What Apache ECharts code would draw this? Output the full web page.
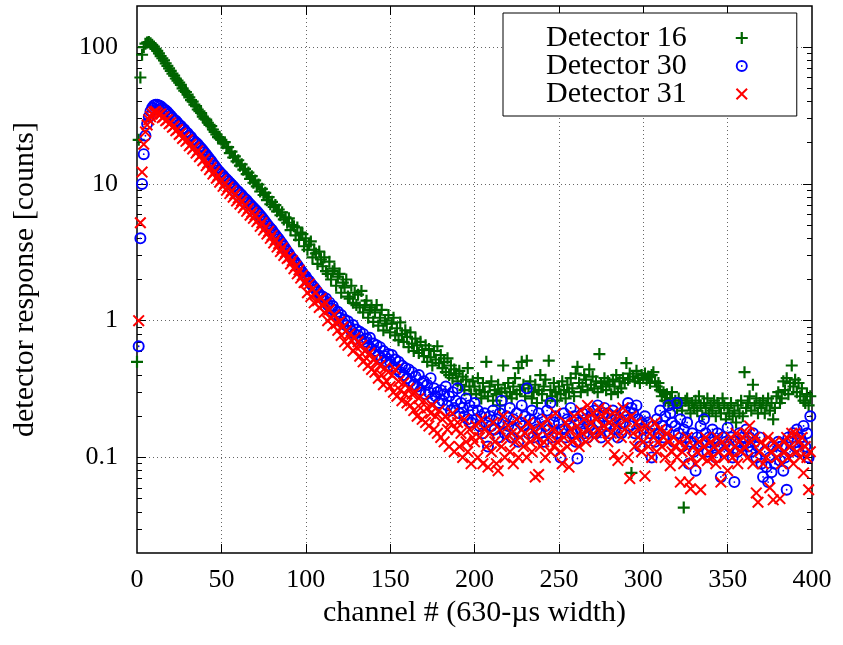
<!DOCTYPE html>
<html>
<head>
<meta charset="utf-8">
<script src="https://cdn.jsdelivr.net/npm/echarts@6/dist/echarts.min.js"></script>
<style>html,body{margin:0;padding:0;background:#fff}#chart{width:843px;height:645px}</style>
</head>
<body>
<div id="chart"></div>
<script>
// channel index = position in the arrays (0..399)
const seriesNames = ['Detector 16', 'Detector 30', 'Detector 31'];

const det16 = [
0.5, 21, 60, 88, 100, 106, 108, 109, 107, 104,
101, 97, 94, 90, 86, 83, 80, 76, 73, 70,
67, 64, 62, 59, 57, 55, 53, 50, 48, 47,
45, 43, 41, 40, 38, 37, 35, 34, 33, 31,
30, 29.5, 28, 27, 26.5, 25, 24, 23, 22, 21.5,
21, 19.8, 20.2, 18.4, 18.6, 16.8, 17.2, 15.6, 15.9, 14.6,
14.9, 13.6, 13.9, 12.7, 12.9, 11.8, 12.1, 10.9, 11.4, 10.2,
10.6, 9.6, 9.9, 8.8, 9.2, 8.3, 8.6, 7.6, 8.0, 7.1,
7.4, 6.8, 7.0, 6.3, 6.5, 5.9, 6.2, 5.5, 5.7, 5.2,
5.6, 4.6, 5.0, 4.9, 4.2, 4.8, 3.9, 4.4, 4.3, 3.5,
4.0, 3.3, 3.6, 3.8, 2.9, 3.3, 3.1, 2.6, 3.2, 2.8,
2.5, 2.9, 2.3, 2.2, 2.7, 2.0, 2.3, 2.4, 1.8, 2.1,
2.2, 1.6, 1.9, 1.75, 2.0, 1.5, 1.45, 1.8, 1.35, 1.6,
1.3, 1.55, 1.25, 1.65, 1.15, 1.3, 1.4, 1.05, 1.2, 1.25,
0.98, 1.15, 1.3, 0.92, 1.05, 1.2, 0.85, 1.0, 0.95, 1.1,
0.82, 0.95, 1.05, 0.78, 0.88, 0.72, 0.97, 0.8, 0.7, 0.85,
0.76, 0.64, 0.82, 0.68, 0.6, 0.74, 0.66, 0.58, 0.7, 0.61,
0.55, 0.66, 0.5, 0.62, 0.54, 0.47, 0.6, 0.52, 0.65, 0.49,
0.56, 0.45, 0.5, 0.42, 0.53, 0.4, 0.47, 0.38, 0.44, 0.41,
0.36, 0.43, 0.34, 0.39, 0.31, 0.37, 0.45, 0.33, 0.29, 0.36,
0.33, 0.29, 0.38, 0.31, 0.27, 0.35, 0.3, 0.5, 0.28, 0.33,
0.36, 0.26, 0.31, 0.29, 0.34, 0.24, 0.3, 0.47, 0.32, 0.28,
0.35, 0.3, 0.27, 0.33, 0.38, 0.29, 0.45, 0.31, 0.5, 0.34,
0.28, 0.51, 0.32, 0.36, 0.27, 0.3, 0.34, 0.25, 0.31, 0.4,
0.29, 0.33, 0.37, 0.26, 0.51, 0.31, 0.28, 0.35, 0.3, 0.26,
0.33, 0.29, 0.36, 0.31, 0.27, 0.34, 0.3, 0.38, 0.32, 0.28,
0.41, 0.46, 0.35, 0.3, 0.33, 0.4, 0.37, 0.31, 0.44, 0.34,
0.39, 0.32, 0.36, 0.3, 0.57, 0.35, 0.33, 0.38, 0.31, 0.36,
0.34, 0.29, 0.37, 0.33, 0.4, 0.3, 0.36, 0.32, 0.38, 0.35,
0.49, 0.37, 0.41, 0.077, 0.39, 0.36, 0.43, 0.38, 0.35, 0.4,
0.38, 0.41, 0.37, 0.39, 0.35, 0.4, 0.42, 0.36, 0.33, 0.35,
0.31, 0.28, 0.3, 0.26, 0.29, 0.25, 0.27, 0.3, 0.24, 0.26,
0.23, 0.27, 0.25, 0.22, 0.043, 0.26, 0.27, 0.24, 0.21, 0.25,
0.23, 0.26, 0.22, 0.28, 0.24, 0.2, 0.25, 0.23, 0.27, 0.21,
0.24, 0.22, 0.26, 0.2, 0.25, 0.23, 0.21, 0.27, 0.24, 0.19,
0.23, 0.21, 0.25, 0.2, 0.22, 0.18, 0.24, 0.21, 0.26, 0.2,
0.42, 0.23, 0.25, 0.28, 0.22, 0.34, 0.24, 0.27, 0.21, 0.25,
0.23, 0.26, 0.21, 0.24, 0.27, 0.22, 0.25, 0.19, 0.23, 0.28,
0.3, 0.25, 0.27, 0.36, 0.31, 0.38, 0.29, 0.35, 0.47, 0.33,
0.37, 0.3, 0.35, 0.28, 0.32, 0.26, 0.25, 0.29, 0.24, 0.28
];

const det30 = [
null, 0.65, 4.0, 10, 16.5, 22.5, 27.5, 31, 34, 36,
37.5, 38, 38, 37.5, 37, 36, 35, 34.5, 33.5, 32.5,
31.5, 30.5, 29.5, 29, 28, 27, 26.5, 25.5, 25, 24,
23.5, 22.5, 22, 21, 20.5, 20, 19.5, 18.8, 18.2, 17.6,
17, 16.4, 15.8, 15.2, 14.7, 14.1, 13.6, 13.1, 12.6, 12.2,
11.8, 11.5, 11.1, 10.8, 10.5, 10.2, 9.9, 9.6, 9.3, 9.0,
8.8, 8.5, 8.3, 8.0, 7.8, 7.6, 7.3, 7.1, 6.9, 6.7,
6.5, 6.3, 6.1, 5.9, 5.7, 5.5, 5.3, 5.1, 4.9, 4.75,
4.6, 4.4, 4.25, 4.1, 3.95, 3.8, 3.65, 3.5, 3.35, 3.2,
3.1, 2.95, 2.85, 2.75, 2.65, 2.55, 2.45, 2.35, 2.25, 2.15,
2.1, 2.0, 1.95, 1.87, 1.8, 1.75, 1.68, 1.62, 1.56, 1.5,
1.5, 1.4, 1.45, 1.3, 1.36, 1.22, 1.28, 1.2, 1.1, 1.16,
1.05, 1.1, 0.97, 1.02, 0.92, 0.99, 0.9, 0.84, 0.93, 0.8,
0.86, 0.78, 0.83, 0.72, 0.8, 0.7, 0.74, 0.66, 0.75, 0.62,
0.68, 0.6, 0.66, 0.56, 0.64, 0.53, 0.6, 0.55, 0.5, 0.57,
0.5, 0.56, 0.46, 0.52, 0.44, 0.5, 0.42, 0.47, 0.4, 0.45,
0.38, 0.44, 0.36, 0.42, 0.34, 0.39, 0.33, 0.4, 0.31, 0.35,
0.36, 0.29, 0.34, 0.3, 0.38, 0.27, 0.32, 0.28, 0.3, 0.25,
0.31, 0.26, 0.29, 0.33, 0.24, 0.28, 0.22, 0.3, 0.23, 0.26,
0.32, 0.21, 0.25, 0.23, 0.2, 0.27, 0.19, 0.24, 0.18, 0.22,
0.25, 0.19, 0.22, 0.17, 0.2, 0.15, 0.21, 0.18, 0.12, 0.2,
0.17, 0.22, 0.16, 0.19, 0.14, 0.21, 0.26, 0.18, 0.15, 0.2,
0.17, 0.23, 0.14, 0.19, 0.16, 0.21, 0.13, 0.18, 0.24, 0.17,
0.2, 0.32, 0.15, 0.19, 0.22, 0.14, 0.18, 0.16, 0.21, 0.15,
0.19, 0.13, 0.17, 0.22, 0.16, 0.25, 0.14, 0.18, 0.2, 0.15,
0.18, 0.1, 0.16, 0.21, 0.14, 0.19, 0.17, 0.23, 0.15, 0.2,
0.13, 0.098, 0.18, 0.16, 0.21, 0.15, 0.19, 0.14, 0.17, 0.2,
0.16, 0.22, 0.15, 0.24, 0.18, 0.14, 0.2, 0.23, 0.17, 0.21,
0.15, 0.19, 0.22, 0.16, 0.2, 0.14, 0.19, 0.15, 0.18, 0.22,
0.2, 0.25, 0.17, 0.23, 0.21, 0.15, 0.24, 0.19, 0.12, 0.18,
0.16, 0.2, 0.14, 0.18, 0.15, 0.1, 0.17, 0.13, 0.19, 0.15,
0.22, 0.17, 0.14, 0.2, 0.16, 0.24, 0.21, 0.18, 0.13, 0.17,
0.25, 0.15, 0.19, 0.12, 0.16, 0.14, 0.18, 0.09, 0.13, 0.15,
0.11, 0.08, 0.14, 0.12, 0.17, 0.13, 0.19, 0.15, 0.11, 0.14,
0.12, 0.16, 0.13, 0.1, 0.15, 0.12, 0.072, 0.14, 0.11, 0.13,
0.165, 0.12, 0.14, 0.1, 0.066, 0.13, 0.11, 0.15, 0.12, 0.14,
0.13, 0.16, 0.12, 0.14, 0.11, 0.15, 0.13, 0.1, 0.12, 0.14,
0.09, 0.072, 0.11, 0.085, 0.066, 0.1, 0.078, 0.12, 0.09, 0.11,
0.13, 0.095, 0.12, 0.08, 0.1, 0.058, 0.14, 0.11, 0.13, 0.15,
0.12, 0.16, 0.11, 0.14, 0.13, 0.17, 0.12, 0.15, 0.1, 0.2
];

const det31 = [
null, 1.0, 5.2, 12.2, 19.5, 24, 27, 29.5, 31, 32.5,
33.5, 34, 33, 32, 32.5, 30.5, 31, 29, 29.5, 27.5,
28, 26, 26.5, 24.5, 25, 23, 23.5, 21.5, 22, 20.5,
21, 19, 19.5, 18, 18.6, 16.8, 17.5, 15.8, 16.4, 14.8,
15.2, 13.6, 14.2, 12.7, 13.2, 11.8, 12.3, 11, 11.5, 10.3,
10.7, 9.6, 10.1, 9, 9.5, 8.5, 8.9, 8, 8.4, 7.5,
7.9, 7.1, 7.5, 6.7, 7, 6.3, 6.6, 5.9, 6.2, 5.6,
5.9, 5.3, 5.5, 4.9, 5.2, 4.6, 4.8, 4.3, 4.5, 4.0,
4.2, 3.7, 3.9, 3.45, 3.65, 3.2, 3.4, 3.0, 3.15, 2.85,
2.9, 2.6, 2.75, 2.4, 2.5, 2.2, 2.35, 2.05, 2.15, 1.9,
1.9, 1.6, 1.85, 1.5, 1.7, 1.35, 1.6, 1.4, 1.25, 1.45,
1.3, 1.15, 1.35, 1.0, 1.2, 1.05, 0.92, 1.1, 0.95, 0.85,
0.98, 0.78, 0.9, 0.7, 0.84, 0.66, 0.8, 0.72, 0.6, 0.75,
0.64, 0.7, 0.55, 0.66, 0.5, 0.6, 0.53, 0.47, 0.58, 0.44,
0.52, 0.42, 0.5, 0.38, 0.47, 0.4, 0.34, 0.45, 0.36, 0.42,
0.33, 0.4, 0.3, 0.44, 0.28, 0.36, 0.31, 0.26, 0.35, 0.29,
0.25, 0.32, 0.24, 0.29, 0.22, 0.3, 0.2, 0.27, 0.23, 0.19,
0.26, 0.18, 0.23, 0.17, 0.21, 0.24, 0.16, 0.2, 0.15, 0.22,
0.14, 0.19, 0.13, 0.2, 0.16, 0.12, 0.18, 0.21, 0.11, 0.16,
0.18, 0.12, 0.15, 0.1, 0.19, 0.13, 0.11, 0.16, 0.09, 0.14,
0.13, 0.17, 0.1, 0.14, 0.19, 0.09, 0.16, 0.12, 0.085, 0.15,
0.11, 0.18, 0.13, 0.09, 0.08, 0.16, 0.12, 0.2, 0.1, 0.14,
0.17, 0.11, 0.15, 0.09, 0.13, 0.19, 0.1, 0.14, 0.16, 0.12,
0.15, 0.1, 0.18, 0.13, 0.11, 0.16, 0.072, 0.14, 0.075, 0.12,
0.17, 0.13, 0.1, 0.19, 0.14, 0.11, 0.16, 0.12, 0.21, 0.13,
0.15, 0.11, 0.09, 0.14, 0.18, 0.12, 0.085, 0.16, 0.13, 0.2,
0.14, 0.17, 0.12, 0.22, 0.15, 0.19, 0.13, 0.24, 0.16, 0.18,
0.21, 0.14, 0.19, 0.16, 0.23, 0.15, 0.2, 0.17, 0.22, 0.13,
0.18, 0.15, 0.21, 0.105, 0.17, 0.095, 0.2, 0.14, 0.23, 0.16,
0.19, 0.1, 0.07, 0.2, 0.15, 0.12, 0.18, 0.14, 0.16, 0.11,
0.13, 0.073, 0.17, 0.12, 0.15, 0.1, 0.14, 0.18, 0.11, 0.13,
0.16, 0.12, 0.14, 0.1, 0.15, 0.13, 0.087, 0.11, 0.14, 0.12,
0.1, 0.13, 0.066, 0.11, 0.09, 0.12, 0.14, 0.066, 0.059, 0.1,
0.12, 0.09, 0.11, 0.13, 0.058, 0.1, 0.12, 0.14, 0.095, 0.11,
0.13, 0.1, 0.12, 0.09, 0.14, 0.11, 0.066, 0.13, 0.1, 0.12,
0.08, 0.11, 0.14, 0.1, 0.12, 0.15, 0.09, 0.13, 0.11, 0.14,
0.12, 0.15, 0.1, 0.17, 0.13, 0.09, 0.14, 0.055, 0.047, 0.11,
0.13, 0.09, 0.12, 0.1, 0.14, 0.06, 0.11, 0.049, 0.13, 0.1,
0.12, 0.05, 0.09, 0.13, 0.11, 0.14, 0.1, 0.12, 0.15, 0.09,
0.15, 0.11, 0.13, 0.1, 0.14, 0.077, 0.12, 0.1, 0.058, 0.11
];

const xLabelValues = [0, 50, 100, 150, 200, 250, 300, 350, 400];
const xTickValues = [50, 100, 150, 200, 250, 300, 350];
const yMajorValues = [0.1, 1, 10, 100];
const yMinorValues = [0.03, 0.04, 0.05, 0.06, 0.07, 0.08, 0.09,
  0.2, 0.3, 0.4, 0.5, 0.6, 0.7, 0.8, 0.9,
  2, 3, 4, 5, 6, 7, 8, 9,
  20, 30, 40, 50, 60, 70, 80, 90];

function toPairs(arr) {
  const out = [];
  arr.forEach(function (v, i) { if (v != null) out.push([i, v]); });
  return out;
}

const FONT = 'Liberation Serif';
const PLUS = 'path://M4.9,0H7.1V4.9H12V7.1H7.1V12H4.9V7.1H0V4.9H4.9Z';
const CROSS = 'path://M0,1.4L1.4,0L6,4.6L10.6,0L12,1.4L7.4,6L12,10.6L10.6,12L6,7.4L1.4,12L0,10.6L4.6,6Z';
const RING = 'path://M6,0A6,6,0,1,1,6,12A6,6,0,1,1,6,0ZM6,1.9A4.1,4.1,0,1,0,6,10.1A4.1,4.1,0,1,0,6,1.9ZM6,5.1A0.9,0.9,0,1,1,6,6.9A0.9,0.9,0,1,1,6,5.1Z';

const gridLine = { show: true, lineStyle: { color: '#666', width: 1, type: [1, 3] } };
const tickStyle = { color: '#000', width: 1 };

function xAx(pos, main) {
  return {
    type: 'value', min: 0, max: 400, position: pos,
    axisLine: { show: false },
    axisTick: { show: true, inside: true, length: 9, lineStyle: tickStyle, customValues: xTickValues },
    axisLabel: main ? { show: true, customValues: xLabelValues, margin: 14, fontFamily: FONT, fontSize: 26, color: '#000' } : { show: false },
    splitLine: main ? gridLine : { show: false },
    name: main ? 'channel # (630-\u00b5s width)' : '',
    nameLocation: 'middle', nameGap: 43,
    nameTextStyle: { fontFamily: FONT, fontSize: 30, color: '#000' }
  };
}
function yAx(pos, main, minor) {
  return {
    type: 'log', logBase: 10, min: 0.02, max: 200, position: pos,
    axisLine: { show: false },
    axisTick: { show: true, inside: true, length: minor ? 5 : 9, lineStyle: tickStyle, customValues: minor ? yMinorValues : yMajorValues },
    axisLabel: main ? { show: true, customValues: yMajorValues, margin: 19, fontFamily: FONT, fontSize: 26, color: '#000', formatter: function (v) { return String(v); } } : { show: false },
    splitLine: main ? gridLine : { show: false },
    name: main ? 'detector response [counts]' : '',
    nameLocation: 'middle', nameGap: 97, nameRotate: 90,
    nameTextStyle: { fontFamily: FONT, fontSize: 30, color: '#000' }
  };
}

const chart = echarts.init(document.getElementById('chart'), null, { renderer: 'canvas' });
chart.setOption({
  animation: false,
  backgroundColor: '#fff',
  grid: { left: 137, right: 31, top: 6, bottom: 92, show: true, borderColor: '#000', borderWidth: 1.5, backgroundColor: 'transparent' },
  xAxis: [xAx('bottom', true), xAx('top', false)],
  yAxis: [yAx('left', true, false), yAx('left', false, true), yAx('right', false, false), yAx('right', false, true)],
  legend: {
    orient: 'vertical', left: 503, top: 13, align: 'right',
    itemWidth: 12, itemHeight: 12, itemGap: -2,
    padding: [10, 49, 7, 43],
    borderColor: '#000', borderWidth: 1, backgroundColor: '#fff',
    selectedMode: false,
    textStyle: { fontFamily: FONT, fontSize: 30, color: '#000', lineHeight: 28, padding: [0, 44, 0, 0] },
    data: seriesNames
  },
  series: [
    { name: seriesNames[0], type: 'scatter', xAxisIndex: 0, yAxisIndex: 0, data: toPairs(det16), symbol: PLUS, symbolSize: 12, itemStyle: { color: '#006400', opacity: 1 }, silent: true, z: 2 },
    { name: seriesNames[1], type: 'scatter', xAxisIndex: 0, yAxisIndex: 0, data: toPairs(det30), symbol: RING, symbolSize: 12, itemStyle: { color: '#0000ff', opacity: 1 }, silent: true, z: 3 },
    { name: seriesNames[2], type: 'scatter', xAxisIndex: 0, yAxisIndex: 0, data: toPairs(det31), symbol: CROSS, symbolSize: 12, itemStyle: { color: '#ff0000', opacity: 1 }, silent: true, z: 4 }
  ]
});
</script>
</body>
</html>
